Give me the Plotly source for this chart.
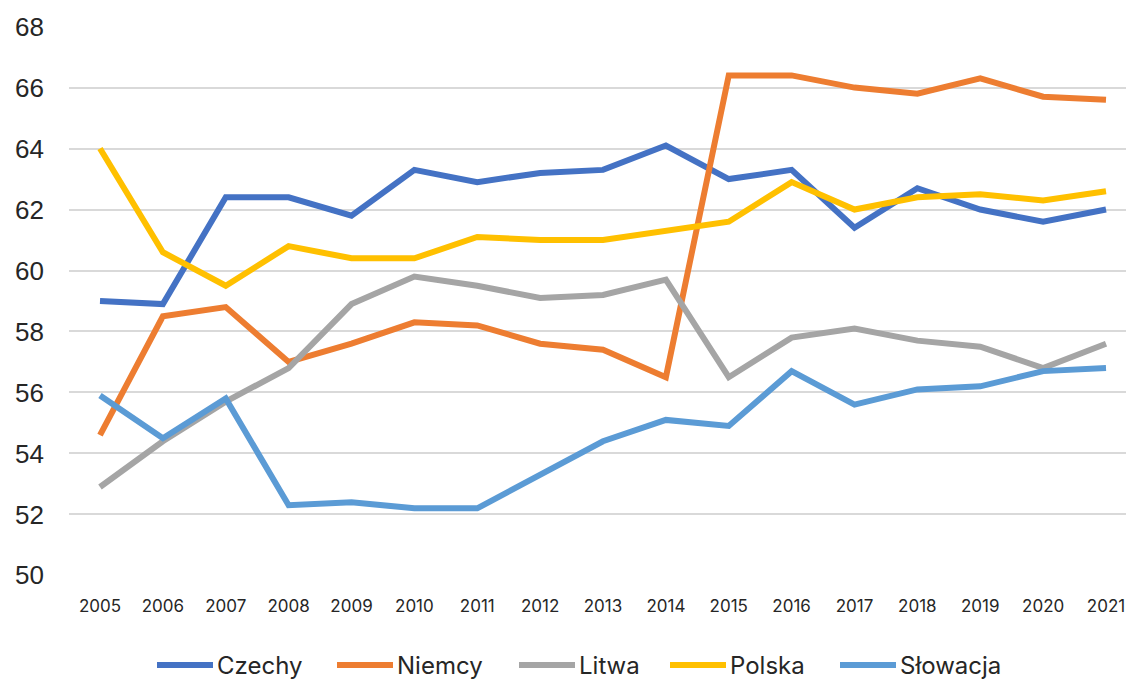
import plotly.graph_objects as go

# Years on the horizontal axis
years = list(range(2005, 2022))

# Series values per country
czechy = [59.0, 58.9, 62.4, 62.4, 61.8, 63.3, 62.9, 63.2, 63.3, 64.1, 63.0, 63.3, 61.4, 62.7, 62.0, 61.6, 62.0]
niemcy = [54.6, 58.5, 58.8, 57.0, 57.6, 58.3, 58.2, 57.6, 57.4, 56.5, 66.4, 66.4, 66.0, 65.8, 66.3, 65.7, 65.6]
litwa = [52.9, 54.4, 55.7, 56.8, 58.9, 59.8, 59.5, 59.1, 59.2, 59.7, 56.5, 57.8, 58.1, 57.7, 57.5, 56.8, 57.6]
polska = [64.0, 60.6, 59.5, 60.8, 60.4, 60.4, 61.1, 61.0, 61.0, 61.3, 61.6, 62.9, 62.0, 62.4, 62.5, 62.3, 62.6]
slowacja = [55.9, 54.5, 55.8, 52.3, 52.4, 52.2, 52.2, 53.3, 54.4, 55.1, 54.9, 56.7, 55.6, 56.1, 56.2, 56.7, 56.8]

# Y axis ticks
y_ticks = [50, 52, 54, 56, 58, 60, 62, 64, 66, 68]

series = [
    ("Czechy", czechy, "#4472C4"),
    ("Niemcy", niemcy, "#ED7D31"),
    ("Litwa", litwa, "#A5A5A5"),
    ("Polska", polska, "#FFC000"),
    ("Słowacja", slowacja, "#5B9BD5"),
]

W, H = 1126, 680
L, R, T, B = 69, 0, 26, 104
plot_w = W - L - R
plot_h = H - T - B

fig = go.Figure()
for name, vals, color in series:
    fig.add_trace(go.Scatter(
        x=years, y=vals, name=name, mode="lines",
        line=dict(color=color, width=6),
        showlegend=False,
    ))

# Legend drawn below the plot: swatch line followed by the label
legend_x = [157, 337, 519, 670, 840]
legend_y_px = 665
ly = (T + plot_h - legend_y_px) / plot_h
for (name, vals, color), px in zip(series, legend_x):
    x0 = (px - L) / plot_w
    x1 = (px + 56 - L) / plot_w
    fig.add_shape(type="line", xref="paper", yref="paper",
                  x0=x0, x1=x1, y0=ly, y1=ly,
                  line=dict(color=color, width=6))
    fig.add_annotation(xref="paper", yref="paper",
                       x=(px + 59 - L) / plot_w, y=ly,
                       xanchor="left", yanchor="middle",
                       text=name, showarrow=False, borderpad=0,
                       font=dict(family="Inter", size=24, color="#262626"))

fig.update_layout(
    width=W, height=H,
    margin=dict(l=L, r=R, t=T, b=B),
    paper_bgcolor="white", plot_bgcolor="white",
    showlegend=False,
    xaxis=dict(
        range=[2004.507, 2021.318],
        tickvals=years, ticktext=[str(y) for y in years],
        showgrid=False, zeroline=False, showline=False,
        tickfont=dict(family="Inter", size=17, color="#262626"),
        ticklabelstandoff=18,
    ),
    yaxis=dict(
        range=[49.98, 68.02],
        tickvals=y_ticks,
        showgrid=True, gridcolor="#D9D9D9", gridwidth=1.5,
        zeroline=False, showline=False,
        tickfont=dict(family="Liberation Sans", size=26, color="#262626"),
        ticklabelstandoff=24,
    ),
)

fig.write_html("out.html")
